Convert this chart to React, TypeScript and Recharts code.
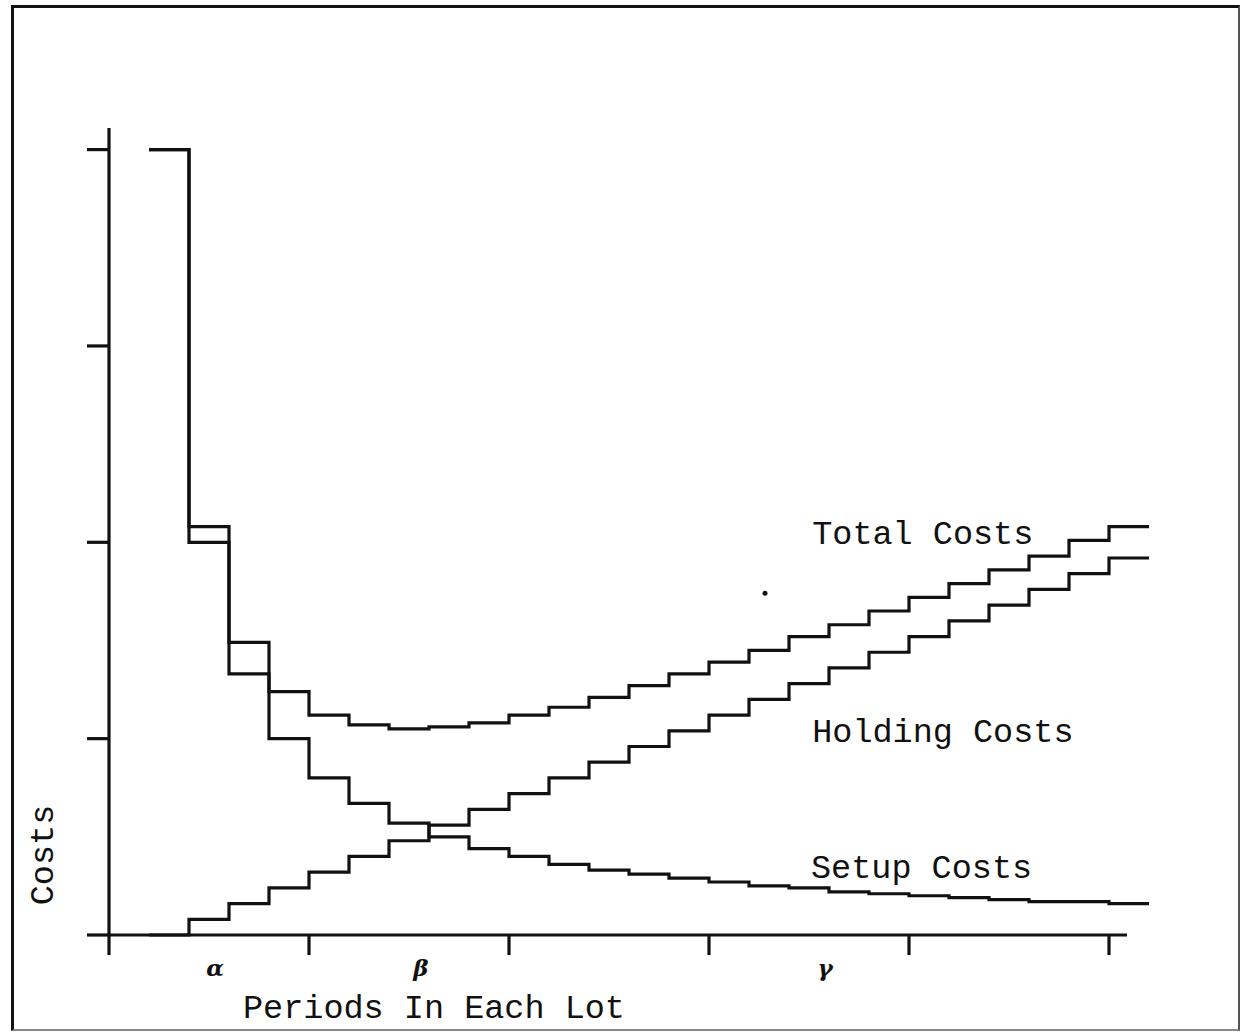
import { LineChart, Line, XAxis, YAxis, ReferenceLine, ReferenceDot, Label } from 'recharts';

// Periods in each lot (the last entry only closes the final step)
const periods = [1, 2, 3, 4, 5, 6, 7, 8, 9, 10, 11, 12, 13, 14, 15, 16, 17, 18, 19, 20, 21, 22, 23, 24, 25, 26];
// Costs (one y tick = 1 unit)
const setupCosts = [4.0, 2.0, 1.33, 1.0, 0.8, 0.67, 0.57, 0.5, 0.44, 0.4, 0.36, 0.33, 0.31, 0.29, 0.27, 0.25, 0.24, 0.22, 0.21, 0.2, 0.19, 0.18, 0.17, 0.17, 0.16, 0.16];
const holdingCosts = [0, 0.08, 0.16, 0.24, 0.32, 0.4, 0.48, 0.56, 0.64, 0.72, 0.8, 0.88, 0.96, 1.04, 1.12, 1.2, 1.28, 1.36, 1.44, 1.52, 1.6, 1.68, 1.76, 1.84, 1.92, 1.92];
const totalCosts = [4.0, 2.08, 1.49, 1.24, 1.12, 1.07, 1.05, 1.06, 1.08, 1.12, 1.16, 1.21, 1.27, 1.33, 1.39, 1.45, 1.52, 1.58, 1.65, 1.72, 1.79, 1.86, 1.93, 2.01, 2.08, 2.08];

const xTicks = [0, 5, 10, 15, 20, 25];
const yTicks = [0, 1, 2, 3, 4];
const greekLabels = ['α', 'β', 'γ'];
const greekTicks = [2.65, 7.8, 17.9];
const seriesNames = ['Total Costs', 'Holding Costs', 'Setup Costs'];

const data = periods.map((p, i) => ({
  period: p,
  setup: setupCosts[i],
  holding: holdingCosts[i],
  total: totalCosts[i],
}));

const MONO = '"Liberation Mono", "DejaVu Sans Mono", monospace';
const INK = '#111';
const LW = 3.2;

// where the series names sit (period, cost) - left end of the text baseline
const namePos = [
  [17.58, 1.99],
  [17.58, 0.985],
  [17.55, 0.29],
];

function NameLabel({ viewBox, text }: any) {
  return (
    <text x={viewBox.x} y={viewBox.y} fontFamily={MONO} fontSize={33.5} fill={INK} textAnchor="start">
      {text}
    </text>
  );
}

// ticks here are only marks, no text
const NoTick = () => <g />;

function GreekTick({ x, y, index }: any) {
  return (
    <text
      x={x}
      y={y + 21}
      textAnchor="middle"
      fontFamily='"DejaVu Serif", serif'
      fontStyle="italic"
      fontWeight="bold"
      fontSize={23}
      fill={INK}
    >
      {greekLabels[index]}
    </text>
  );
}

export default function App() {
  return (
    <div style={{ position: 'absolute', left: 0, top: 0, width: 1242, height: 1033, background: '#fff' }}>
      <div
        style={{
          position: 'absolute',
          left: 11,
          top: 5,
          width: 1229,
          height: 1026,
          boxSizing: 'border-box',
          borderTop: '3px solid #111',
          borderLeft: '3px solid #111',
          borderRight: '2px solid #555',
          borderBottom: '2px solid #888',
        }}
      />
      <div style={{ position: 'absolute', left: 0, top: 0 }}>
        <LineChart width={1242} height={1033} data={data} margin={{ top: 128, right: 93, bottom: 8, left: 49 }}>
          <XAxis
            dataKey="period"
            type="number"
            domain={[0, 26]}
            ticks={xTicks}
            tick={<NoTick />}
            axisLine={false}
            tickLine={{ stroke: INK, strokeWidth: LW }}
            tickSize={20}
            height={20}
          />
          <XAxis
            xAxisId="greek"
            dataKey="period"
            type="number"
            domain={[0, 26]}
            ticks={greekTicks}
            tick={<GreekTick />}
            axisLine={false}
            tickLine={false}
            tickSize={0}
            tickMargin={0}
            height={70}
          >
            <Label
              content={({ viewBox }: any) => (
                <text x={viewBox.x + 134} y={viewBox.y + 63} fontFamily={MONO} fontSize={33.5} fill={INK}>
                  Periods In Each Lot
                </text>
              )}
            />
          </XAxis>
          <YAxis
            type="number"
            domain={[0, 4.11]}
            ticks={yTicks}
            tick={<NoTick />}
            axisLine={{ stroke: INK, strokeWidth: LW }}
            tickLine={{ stroke: INK, strokeWidth: LW }}
            tickSize={22}
            width={60}
          >
            <Label
              content={({ viewBox }: any) => (
                <text
                  x={viewBox.x + 4}
                  y={855}
                  transform={`rotate(-90, ${viewBox.x + 4}, 855)`}
                  textAnchor="middle"
                  fontFamily={MONO}
                  fontSize={33.5}
                  fill={INK}
                >
                  Costs
                </text>
              )}
            />
          </YAxis>

          <ReferenceLine
            segment={[
              { x: 0, y: 0 },
              { x: 25.45, y: 0 },
            ]}
            stroke={INK}
            strokeWidth={LW}
            ifOverflow="visible"
          />

          <Line type="stepAfter" dataKey="setup" stroke={INK} strokeWidth={LW} dot={false} isAnimationActive={false} />
          <Line type="stepAfter" dataKey="holding" stroke={INK} strokeWidth={LW} dot={false} isAnimationActive={false} />
          <Line type="stepAfter" dataKey="total" stroke={INK} strokeWidth={LW} dot={false} isAnimationActive={false} />

          {seriesNames.map((name, i) => (
            <ReferenceDot
              key={name}
              x={namePos[i][0]}
              y={namePos[i][1]}
              r={0}
              stroke="none"
              fill="none"
              ifOverflow="visible"
              label={<NameLabel text={name} />}
            />
          ))}
          {/* small speck on the scan */}
          <ReferenceDot x={16.4} y={1.74} r={2.5} fill={INK} stroke="none" />
        </LineChart>
      </div>
    </div>
  );
}
